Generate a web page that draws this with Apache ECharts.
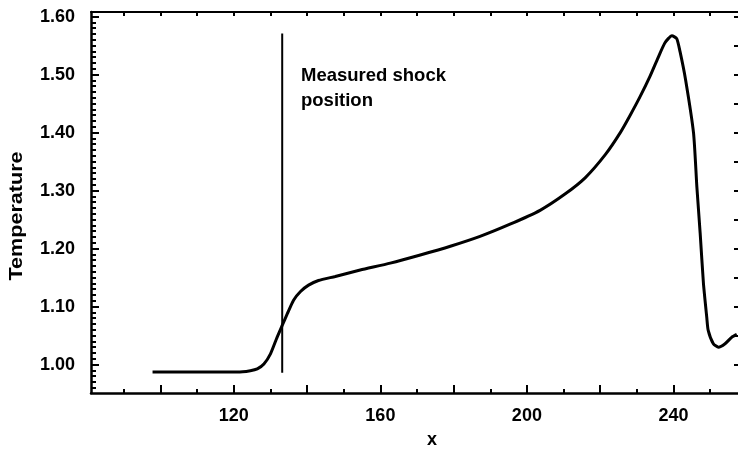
<!DOCTYPE html>
<html>
<head>
<meta charset="utf-8">
<script src="https://cdn.jsdelivr.net/npm/echarts@6/dist/echarts.min.js"></script>
<style>
  html, body { margin: 0; padding: 0; background: #fff; }
  #chart { width: 738px; height: 450px; }
</style>
</head>
<body>
<div id="chart"></div>
<script>
// temperature profile
var xValues = [97.8, 110, 121, 124.5, 126.4, 128.2, 130.0, 131.8, 133.2, 134.6, 136.3,
  138.2, 140.4, 143.1, 147.7, 154.5, 162.7, 170.9, 179.1, 187.2, 195.4, 203.6,
  210.4, 215.9, 221.4, 225.5, 228.2, 230.9, 233.6, 235.8, 237.7, 239.6, 240.9,
  241.8, 243.3, 245.5, 246.4, 247.3, 248.2, 249.1, 249.5, 250.9, 252.3,
  254.1, 255.9, 257.3];
var tempValues = [0.987, 0.987, 0.987, 0.9895, 0.9926, 1.001, 1.0185, 1.047, 1.0675, 1.0877, 1.111,
  1.126, 1.137, 1.145, 1.152, 1.163, 1.175, 1.189, 1.204, 1.221, 1.242, 1.266,
  1.294, 1.322, 1.362, 1.400, 1.430, 1.462, 1.497, 1.529, 1.555, 1.567, 1.562,
  1.540, 1.492, 1.399, 1.307, 1.227, 1.140, 1.082, 1.059, 1.036, 1.030,
  1.036, 1.047, 1.052];

// measured shock position marker
var shockX = [133.2, 133.2];
var shockY = [0.986, 1.571];

var xLabelValues = [120, 160, 200, 240];
var xMajorTicks = [100, 120, 140, 160, 180, 200, 220, 240];
var xMinorTicks = [90, 110, 130, 150, 170, 190, 210, 230, 250];
var xTopTicks = [90, 100, 110, 120, 130, 140, 150, 160, 170, 180, 190, 200, 210, 220, 230, 240, 250];
var yLabelValues = [1.00, 1.10, 1.20, 1.30, 1.40, 1.50, 1.60];
var yRightTicks = [1.00, 1.05, 1.10, 1.15, 1.20, 1.25, 1.30, 1.35, 1.40, 1.45, 1.50, 1.55, 1.60];

var yMinorTicks = [];
for (var i = 96; i <= 160; i++) {
  yMinorTicks.push(i / 100);
}

var curve = xValues.map(function (x, i) { return [x, tempValues[i]]; });
var shock = shockX.map(function (x, i) { return [x, shockY[i]]; });

var font = 'Liberation Sans, Arial, Helvetica, sans-serif';
var black = '#000';

var myChart = echarts.init(document.getElementById('chart'));

var option = {
  animation: false,
  backgroundColor: '#fff',
  grid: { left: 91, top: 12, right: -5, bottom: 57, outerBoundsMode: 'none' },
  xAxis: [
    {
      type: 'value', min: 81, max: 259, position: 'bottom',
      name: 'x', nameLocation: 'middle', nameGap: 38,
      nameTextStyle: { color: black, fontFamily: font, fontWeight: 'bold', fontSize: 18, padding: [0, 0, 0, 30] },
      axisLine: { lineStyle: { color: black, width: 2.5 } },
      axisTick: { inside: true, length: 8, customValues: xMajorTicks, lineStyle: { color: black, width: 2 } },
      axisLabel: { customValues: xLabelValues, margin: 14, color: black, fontFamily: font, fontWeight: 'bold', fontSize: 18 },
      splitLine: { show: false }
    },
    {
      type: 'value', min: 81, max: 259, position: 'bottom',
      axisLine: { show: false },
      axisTick: { inside: true, length: 4, customValues: xMinorTicks, lineStyle: { color: black, width: 2 } },
      axisLabel: { show: false },
      splitLine: { show: false }
    },
    {
      type: 'value', min: 81, max: 259, position: 'top',
      axisLine: { lineStyle: { color: black, width: 2 } },
      axisTick: { inside: true, length: 4, customValues: xTopTicks, lineStyle: { color: black, width: 2 } },
      axisLabel: { show: false },
      splitLine: { show: false }
    }
  ],
  yAxis: [
    {
      type: 'value', min: 0.951, max: 1.608, position: 'left',
      axisLine: { lineStyle: { color: black, width: 2.5 } },
      axisTick: { inside: true, length: 8, customValues: yLabelValues, lineStyle: { color: black, width: 2 } },
      axisLabel: {
        customValues: yLabelValues, margin: 16, color: black, fontFamily: font, fontWeight: 'bold', fontSize: 18,
        formatter: function (v) { return v.toFixed(2); }
      },
      splitLine: { show: false }
    },
    {
      type: 'value', min: 0.951, max: 1.608, position: 'left',
      axisLine: { show: false },
      axisTick: { inside: true, length: 5, customValues: yMinorTicks, lineStyle: { color: black, width: 2 } },
      axisLabel: { show: false },
      splitLine: { show: false }
    },
    {
      type: 'value', min: 0.951, max: 1.608, position: 'right',
      axisLine: { lineStyle: { color: black, width: 2 } },
      axisTick: { inside: true, length: 9, customValues: yRightTicks, lineStyle: { color: black, width: 2 } },
      axisLabel: { show: false },
      splitLine: { show: false }
    }
  ],
  graphic: [
    {
      // y axis title, stretched a little like the scanned original
      type: 'text', x: 17, y: 216, rotation: Math.PI / 2, scaleX: 1.2,
      style: {
        text: 'Temperature', fill: black, font: 'bold 18px ' + font,
        align: 'center', verticalAlign: 'middle'
      }
    },
    {
      type: 'text', left: 301, top: 63,
      style: {
        text: 'Measured shock\nposition', fill: black, font: 'bold 18.5px ' + font, lineHeight: 25
      }
    }
  ],
  series: [
    {
      type: 'line', data: curve, smooth: 0.2, showSymbol: false,
      lineStyle: { color: black, width: 3 }
    },
    {
      type: 'line', data: shock, showSymbol: false,
      lineStyle: { color: black, width: 2 }
    }
  ]
};

myChart.setOption(option);
</script>
</body>
</html>
